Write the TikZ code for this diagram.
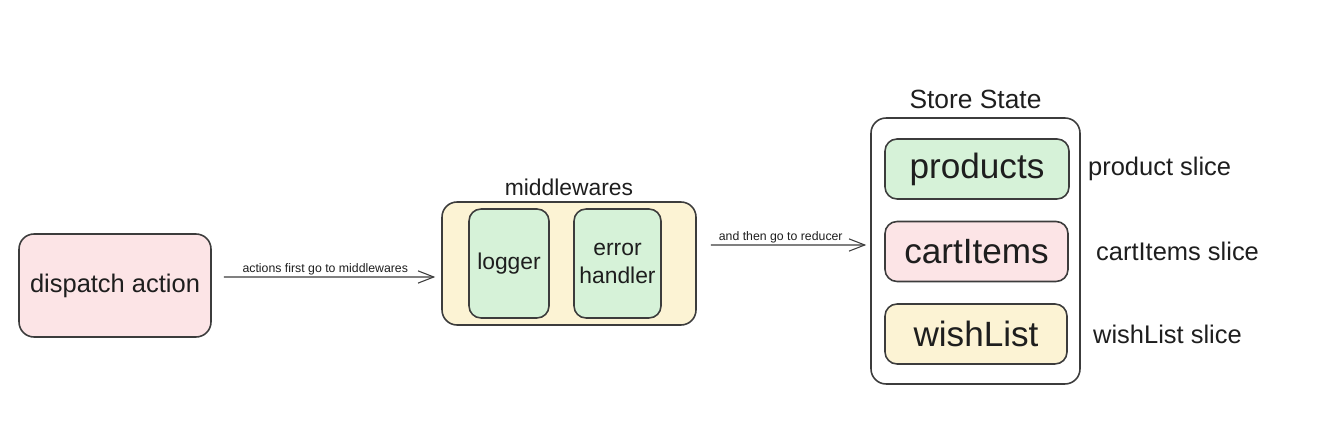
\documentclass[tikz,border=0pt]{standalone}
\usepackage{fontspec}
\setmainfont{Liberation Sans}
\usetikzlibrary{arrows.meta,positioning}
\definecolor{cpink}{RGB}{252,228,230}
\definecolor{cgreen}{RGB}{214,242,216}
\definecolor{cyellow}{RGB}{252,243,212}
\definecolor{cline}{RGB}{60,60,60}
\definecolor{ctext}{RGB}{30,30,30}

\begin{document}
\begin{tikzpicture}[x=0.02cm,y=-0.02cm,-,>={Straight Barb[length=9pt,width=7pt]},
  main box/.style={draw=cline,line width=0.9pt,rounded corners=0.3cm,text=ctext,align=center,
    inner sep=0,font=\fontsize{13}{15.6}\selectfont},
  slice box/.style={main box,rounded corners=0.24cm,minimum height=1.2cm,font=\fontsize{20}{24}\selectfont},
  title node/.style={text=ctext,inner sep=0,font=\fontsize{13}{15.6}\selectfont},
  flow/.style={->,draw=cline,line width=0.6pt},
  flow label/.style={text=ctext,inner sep=1pt,font=\fontsize{7}{8}\selectfont}]
  \useasboundingbox (0,0) rectangle (1324,421);

  \node[main box,fill=cpink,minimum width=3.84cm,minimum height=2.06cm,
    font=\fontsize{14.5}{17}\selectfont] (1) at (115,285.5) {dispatch action};

  \node[main box,fill=cyellow,minimum width=5.08cm,minimum height=2.46cm] (2) at (569,263.5) {};
  \node[title node,above=0.1cm of 2] {middlewares};
  \node[main box,fill=cgreen,rounded corners=0.24cm,minimum width=1.6cm,minimum height=2.18cm] (3) at (509,263.5) {logger};
  \node[main box,fill=cgreen,rounded corners=0.24cm,minimum width=1.74cm,minimum height=2.18cm] (4) at (617.5,263.5) {error\\handler};

  \node[main box,fill=white,minimum width=4.18cm,minimum height=5.32cm] (5) at (975.5,251) {};
  \node[title node,above=0.16cm of 5,font=\fontsize{15}{18}\selectfont] {Store State};
  \node[slice box,fill=cgreen,minimum width=3.68cm] (6) at (977,169) {products};
  \node[slice box,fill=cpink,minimum width=3.66cm] (7) at (976.5,251.5) {cartItems};
  \node[slice box,fill=cyellow,minimum width=3.64cm] (8) at (976,334) {wishList};

  \node[title node,right=0.36cm of 6,font=\fontsize{14.5}{17}\selectfont] {product slice};
  \node[title node,right=0.54cm of 7,font=\fontsize{14.5}{17}\selectfont] {cartItems slice};
  \node[title node,right=0.5cm of 8,font=\fontsize{14.5}{17}\selectfont] {wishList slice};

  \draw[flow] ([xshift=0.24cm,yshift=0.17cm]1.east) -- ([xshift=-0.12cm,yshift=-0.27cm]2.west)
    node[flow label,pos=0.48,above] {actions first go to middlewares};
  \draw[flow] ([xshift=0.28cm,yshift=0.37cm]2.east) -- ([xshift=-0.08cm,yshift=0.12cm]5.west)
    node[flow label,pos=0.45,above] {and then go to reducer};
\end{tikzpicture}
\end{document}
